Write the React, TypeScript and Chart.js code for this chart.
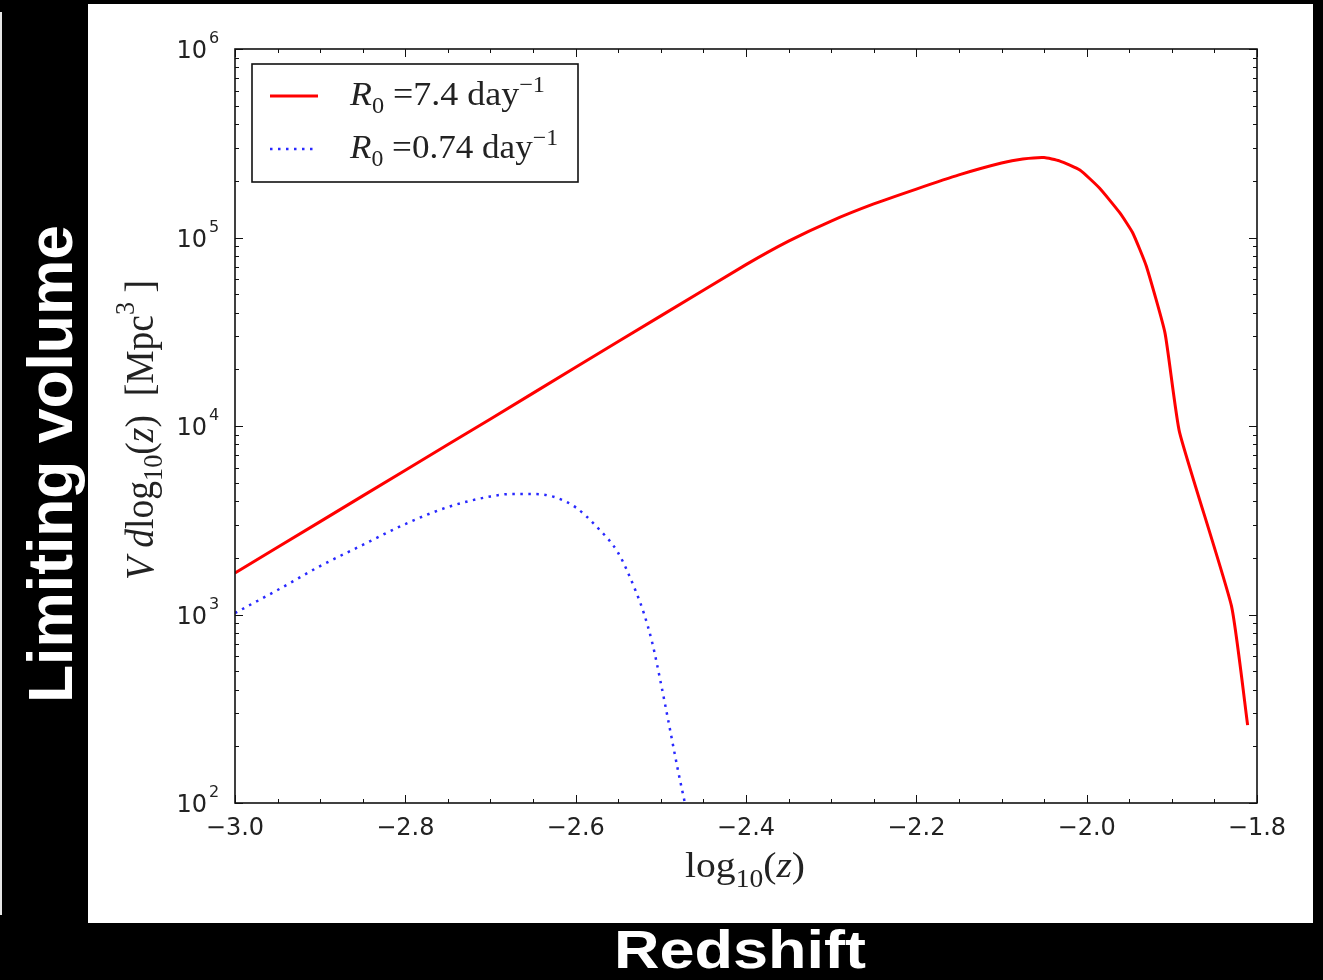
import React, { useEffect, useRef } from "react";
import { Chart, registerables } from "chart.js";

Chart.register(...registerables);

// ---- Data ----
const RED_X = [-3.0, -2.9, -2.8, -2.7, -2.6, -2.5, -2.4, -2.35, -2.3, -2.25, -2.2, -2.15, -2.1, -2.075, -2.05, -2.032, -2.008, -1.985, -1.961, -1.946, -1.93, -1.908, -1.891, -1.83, -1.811];
const RED_Y = [1660, 3110, 5830, 10900, 20500, 38400, 71800, 95700, 122300, 150700, 180700, 214800, 248300, 260600, 265400, 255000, 228000, 183000, 135000, 106000, 70600, 31100, 9290, 1110, 259];

const BLUE_X = [-3.0, -2.95, -2.9, -2.85, -2.8, -2.75, -2.7, -2.675, -2.65, -2.625, -2.6, -2.575, -2.55, -2.53, -2.52, -2.51, -2.5, -2.49, -2.48, -2.47];
const BLUE_Y = [1018, 1349, 1807, 2340, 3020, 3715, 4230, 4360, 4360, 4200, 3700, 2910, 2120, 1349, 1018, 706, 433, 256, 150, 92];

const X_TICKS = [-3.0, -2.8, -2.6, -2.4, -2.2, -2.0, -1.8];
const Y_DECADES = [2, 3, 4, 5, 6];
const LEGEND_VALUES = ["7.4", "0.74"];
const SERIES_COLORS = ["#ff0000", "rgb(40,40,255)"];
const LEFT_LABEL = "Limiting volume";
const BOTTOM_LABEL = "Redshift";

const W = 1323;
const H = 980;

type Seg = { t: string; f: string; dy?: number };

function drawRich(ctx: CanvasRenderingContext2D, segs: Seg[], x: number, y: number, align: "left" | "center", targetW?: number) {
  let total = 0;
  const ws = segs.map((s) => {
    ctx.font = s.f;
    const w = ctx.measureText(s.t).width;
    total += w;
    return w;
  });
  const sx = targetW ? targetW / total : 1;
  ctx.save();
  ctx.translate(x, y);
  ctx.scale(sx, 1);
  ctx.textAlign = "left";
  ctx.textBaseline = "alphabetic";
  let cx = align === "center" ? -total / 2 : 0;
  segs.forEach((s, i) => {
    ctx.font = s.f;
    ctx.fillText(s.t, cx, s.dy || 0);
    cx += ws[i];
  });
  ctx.restore();
}

const fmtX = (v: number | string) => {
  const n = Number(v);
  const s = Math.abs(n).toFixed(1);
  return (n < -1e-9 ? "\u2212" : "") + s;
};

const decorPlugin = {
  id: "decor",
  beforeDraw(chart: any) {
    const ctx = chart.ctx as CanvasRenderingContext2D;
    ctx.save();
    ctx.fillStyle = "#000";
    ctx.fillRect(0, 0, W, H);
    ctx.fillStyle = "#fff";
    ctx.fillRect(88, 4, 1225, 919);
    ctx.fillStyle = "#e6e6e6";
    ctx.fillRect(0, 12, 2, 903);
    ctx.restore();
  },
  afterDraw(chart: any) {
    const ctx = chart.ctx as CanvasRenderingContext2D;
    const a = chart.chartArea;
    const xs = chart.scales.x;
    const ys = chart.scales.y;
    ctx.save();

    // ticks (inside, all four sides)
    ctx.strokeStyle = "#111";
    ctx.lineWidth = 1;
    for (let i = 0; i <= 24; i++) {
      const v = -3 + i * 0.05;
      const px = Math.round(xs.getPixelForValue(v)) + 0.5;
      const len = i % 4 === 0 ? 8 : 4;
      ctx.beginPath();
      ctx.moveTo(px, a.bottom);
      ctx.lineTo(px, a.bottom - len);
      ctx.moveTo(px, a.top);
      ctx.lineTo(px, a.top + len);
      ctx.stroke();
    }
    for (let e = 2; e <= 6; e++) {
      for (let m = 1; m <= 9; m++) {
        if (e === 6 && m > 1) break;
        const py = Math.round(ys.getPixelForValue(m * Math.pow(10, e))) + 0.5;
        const len = m === 1 ? 8 : 4;
        ctx.beginPath();
        ctx.moveTo(a.left, py);
        ctx.lineTo(a.left + len, py);
        ctx.moveTo(a.right, py);
        ctx.lineTo(a.right - len, py);
        ctx.stroke();
      }
    }

    // frame
    ctx.lineWidth = 1.6;
    ctx.strokeStyle = "#111";
    ctx.strokeRect(a.left, a.top, a.right - a.left, a.bottom - a.top);

    // y tick labels
    ctx.fillStyle = "#222";
    Y_DECADES.forEach((e) => {
      const py = ys.getPixelForValue(Math.pow(10, e));
      ctx.font = "24px 'DejaVu Sans'";
      ctx.textAlign = "right";
      ctx.textBaseline = "alphabetic";
      ctx.fillText("10", 207, py + 9);
      ctx.font = "16px 'DejaVu Sans'";
      ctx.textAlign = "left";
      ctx.fillText(String(e), 209, py - 6);
    });

    // x title
    ctx.fillStyle = "#222";
    drawRich(
      ctx,
      [
        { t: "log", f: "36px 'Liberation Serif'" },
        { t: "10", f: "25px 'Liberation Serif'", dy: 10 },
        { t: "(", f: "36px 'Liberation Serif'" },
        { t: "z", f: "italic 36px 'Liberation Serif'" },
        { t: ")", f: "36px 'Liberation Serif'" },
      ],
      745,
      877,
      "center",
      120
    );

    // y title (rotated)
    ctx.save();
    ctx.translate(153, 430);
    ctx.rotate(-Math.PI / 2);
    drawRich(
      ctx,
      [
        { t: "V", f: "italic 40px 'Liberation Serif'" },
        { t: " ", f: "40px 'Liberation Serif'" },
        { t: "d", f: "italic 40px 'Liberation Serif'" },
        { t: "log", f: "40px 'Liberation Serif'" },
        { t: "10", f: "28px 'Liberation Serif'", dy: 9 },
        { t: "(", f: "40px 'Liberation Serif'" },
        { t: "z", f: "italic 40px 'Liberation Serif'" },
        { t: ")", f: "40px 'Liberation Serif'" },
        { t: "  [Mpc", f: "40px 'Liberation Serif'" },
        { t: "3", f: "28px 'Liberation Serif'", dy: -19 },
        { t: " ]", f: "40px 'Liberation Serif'" },
      ],
      0,
      0,
      "center",
      300
    );
    ctx.restore();

    // legend
    ctx.fillStyle = "#fff";
    ctx.fillRect(252, 64, 326, 118);
    ctx.strokeStyle = "#111";
    ctx.lineWidth = 1.6;
    ctx.strokeRect(252, 64, 326, 118);
    const rowY = [96, 149];
    const baseY = [105, 158];
    const widths = [195, 208];
    chart.data.datasets.forEach((ds: any, i: number) => {
      ctx.save();
      ctx.strokeStyle = ds.borderColor;
      ctx.lineWidth = ds.borderWidth;
      ctx.lineCap = "butt";
      ctx.setLineDash(ds.borderDash || []);
      ctx.beginPath();
      ctx.moveTo(270, rowY[i]);
      ctx.lineTo(318, rowY[i]);
      ctx.stroke();
      ctx.restore();
      ctx.fillStyle = "#222";
      drawRich(
        ctx,
        [
          { t: "R", f: "italic 34px 'Liberation Serif'" },
          { t: "0", f: "23px 'Liberation Serif'", dy: 8 },
          { t: " =" + LEGEND_VALUES[i] + " day", f: "34px 'Liberation Serif'" },
          { t: "\u22121", f: "23px 'Liberation Serif'", dy: -13 },
        ],
        350,
        baseY[i],
        "left",
        widths[i]
      );
    });

    // outer labels
    ctx.fillStyle = "#fff";
    ctx.save();
    ctx.translate(72, 464);
    ctx.rotate(-Math.PI / 2);
    drawRich(ctx, [{ t: LEFT_LABEL, f: "bold 63px 'Liberation Sans'" }], 0, 0, "center", 478);
    ctx.restore();
    drawRich(ctx, [{ t: BOTTOM_LABEL, f: "bold 53px 'Liberation Sans'" }], 740, 968, "center", 252);

    ctx.restore();
  },
};

export default function App() {
  const ref = useRef<HTMLCanvasElement | null>(null);
  useEffect(() => {
    if (!ref.current) return;
    const chart = new Chart(ref.current, {
      type: "line",
      data: {
        datasets: [
          {
            label: "R0 = 7.4 day^-1",
            data: RED_X.map((x, i) => ({ x, y: RED_Y[i] })),
            borderColor: SERIES_COLORS[0],
            borderWidth: 3,
            pointRadius: 0,
            fill: false,
            tension: 0.15,
            borderJoinStyle: "round",
          },
          {
            label: "R0 = 0.74 day^-1",
            data: BLUE_X.map((x, i) => ({ x, y: BLUE_Y[i] })),
            borderColor: SERIES_COLORS[1],
            borderWidth: 2.5,
            borderDash: [2.5, 5.5],
            borderCapStyle: "butt",
            pointRadius: 0,
            fill: false,
            cubicInterpolationMode: "monotone",
          },
        ],
      },
      options: {
        animation: false,
        responsive: false,
        maintainAspectRatio: false,
        layout: { padding: { top: 49, right: 66, left: 0, bottom: 0 } },
        plugins: { legend: { display: false }, tooltip: { enabled: false } },
        scales: {
          x: {
            type: "linear",
            min: -3,
            max: -1.8,
            afterBuildTicks: (s: any) => {
              s.ticks = X_TICKS.map((v) => ({ value: v }));
            },
            afterFit: (s: any) => {
              s.height = 177;
            },
            grid: { display: false, drawTicks: false },
            border: { display: false },
            ticks: {
              padding: 11,
              color: "#222",
              font: { family: "'DejaVu Sans'", size: 24 },
              callback: (v: any) => fmtX(v),
              maxRotation: 0,
              autoSkip: false,
            },
          },
          y: {
            type: "logarithmic",
            min: 100,
            max: 1e6,
            afterFit: (s: any) => {
              s.width = 235;
            },
            grid: { display: false, drawTicks: false },
            border: { display: false },
            ticks: { display: false },
          },
        },
      } as any,
      plugins: [decorPlugin as any],
    });
    return () => chart.destroy();
  }, []);
  return (
    <div style={{ position: "fixed", left: 0, top: 0, width: W, height: H, background: "#000" }}>
      <canvas ref={ref} width={W} height={H} style={{ display: "block", width: W, height: H }} />
    </div>
  );
}
